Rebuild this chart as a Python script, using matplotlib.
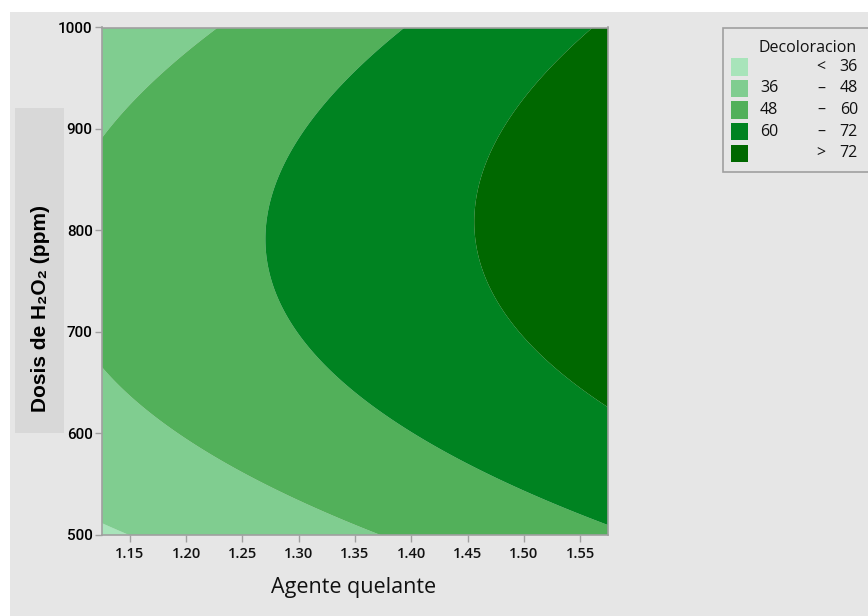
import numpy as np
import matplotlib
matplotlib.use("Agg")
import matplotlib.pyplot as plt
from matplotlib.patches import Rectangle

# ── Data ───────────────────────────────────────────────────────────────────

# Points traced along each contour boundary (Agente quelante, Dosis H2O2)
BOUNDARY_LEVEL = [72, 72, 72, 72, 72,
                  60, 60, 60, 60, 60, 60, 60,
                  48, 48, 48, 48, 48, 48, 48,
                  36, 36]
BOUNDARY_AGENT = [1.561, 1.5745, 1.4556, 1.512, 1.482,
                  1.393, 1.2703, 1.297, 1.304, 1.373, 1.444, 1.5745,
                  1.229, 1.125, 1.174, 1.125, 1.168, 1.372, 1.299,
                  1.125, 1.150]
BOUNDARY_DOSE = [1000, 624.8, 805, 679, 731,
                 1000, 790, 889, 692, 620, 574, 510,
                 1000, 893, 948, 664, 621, 500, 534.5,
                 512, 500]

LEVELS = [36, 48, 60, 72]
LEVEL_COLORS = ["#a8e4ba", "#80cd90", "#52b05a", "#008321", "#006800"]
LEGEND_LEFT = ["", "36", "48", "60", ""]
LEGEND_MID = ["<", "–", "–", "–", ">"]
LEGEND_RIGHT = ["36", "48", "60", "72", "72"]

X_RANGE = (1.125, 1.575)
Y_RANGE = (500, 1000)
X_TICKS = [1.15, 1.20, 1.25, 1.30, 1.35, 1.40, 1.45, 1.50, 1.55]
Y_TICKS = [500, 600, 700, 800, 900, 1000]

BG = "#e6e6e6"
SPINE = "#a0a0a0"
TEXT = "#111111"

W, H = 868, 616


def coded(a, d):
    u = (np.asarray(a, float) - 1.35) / 0.225
    v = (np.asarray(d, float) - 750.0) / 250.0
    return u, v


def design(u, v):
    return np.column_stack([np.ones_like(u), u, v, u * u, v * v, u * v])


# second-order response surface fitted through the traced boundaries
u, v = coded(BOUNDARY_AGENT, BOUNDARY_DOSE)
coef, *_ = np.linalg.lstsq(design(u, v), np.asarray(BOUNDARY_LEVEL, float), rcond=None)

gx = np.linspace(*X_RANGE, 500)
gy = np.linspace(*Y_RANGE, 500)
GX, GY = np.meshgrid(gx, gy)
gu, gv = coded(GX.ravel(), GY.ravel())
Z = (design(gu, gv) @ coef).reshape(GX.shape)

# ── Figure ─────────────────────────────────────────────────────────────────

fig = plt.figure(figsize=(W / 100, H / 100), dpi=100, facecolor="white")
fig.add_artist(Rectangle((10 / W, 0), 1 - 10 / W, (H - 12) / H,
                         transform=fig.transFigure, facecolor=BG,
                         edgecolor="none", zorder=0))

# shaded box behind the y label
fig.add_artist(Rectangle((15 / W, 1 - 433 / H), 49 / W, 325 / H,
                         transform=fig.transFigure, facecolor="#d8d8d8",
                         edgecolor="none", zorder=1))

ax = fig.add_axes([101.7 / W, 1 - 535 / H, (608.3 - 101.7) / W, (535 - 27.5) / H])
ax.set_facecolor(BG)

bounds = [min(Z.min(), LEVELS[0]) - 1] + LEVELS + [max(Z.max(), LEVELS[-1]) + 1]
ax.contourf(GX, GY, Z, levels=bounds, colors=LEVEL_COLORS, antialiased=True)

ax.set_xlim(*X_RANGE)
ax.set_ylim(*Y_RANGE)
ax.set_xticks(X_TICKS)
ax.set_xticklabels([f"{t:.2f}" for t in X_TICKS], family="Open Sans",
                   fontweight="semibold", fontsize=10.5, color=TEXT)
ax.set_yticks(Y_TICKS)
ax.set_yticklabels([str(t) for t in Y_TICKS], family="Roboto",
                   fontweight="medium", fontsize=11, color="black")
ax.tick_params(axis="both", direction="out", length=5, width=1, color=SPINE)
ax.tick_params(axis="x", pad=4)
ax.tick_params(axis="y", pad=1.5)
for s in ax.spines.values():
    s.set_color(SPINE)
    s.set_linewidth(1.2)

fig.text(354 / W, 1 - 588 / H, "Agente quelante", family="Open Sans",
         fontsize=15.5, color=TEXT, ha="center", va="center")
fig.text(41 / W, 1 - 309 / H, "Dosis de H\u2082O\u2082 (ppm)",
         family=["Liberation Sans", "DejaVu Sans"], fontweight="bold",
         fontsize=15, color="black", rotation=90, ha="center", va="center")

# ── Legend ─────────────────────────────────────────────────────────────────

fig.add_artist(Rectangle((723 / W, 1 - 172 / H), 160 / W, 144 / H,
                         transform=fig.transFigure, facecolor=BG,
                         edgecolor=SPINE, linewidth=1.2, zorder=2,
                         clip_on=False))
fig.text(759 / W, 1 - 48 / H, "Decoloracion", family="Open Sans",
         fontsize=11.5, color=TEXT, ha="left", va="center", zorder=3)
row_y = [67, 88.5, 110, 131.5, 153]
for yy, col, lt, mt, rt in zip(row_y, LEVEL_COLORS, LEGEND_LEFT, LEGEND_MID, LEGEND_RIGHT):
    fig.add_artist(Rectangle((731 / W, 1 - (yy + 8.5) / H), 17 / W, 17 / H,
                             transform=fig.transFigure, facecolor=col,
                             edgecolor="none", zorder=3))
    kw = dict(family="Open Sans", fontsize=11.5, color=TEXT, va="center", zorder=3)
    fig.text(760 / W, 1 - yy / H, lt, ha="left", **kw)
    fig.text(821 / W, 1 - yy / H, mt, ha="center", **kw)
    fig.text(858 / W, 1 - yy / H, rt, ha="right", **kw)

fig.savefig("out.png", dpi=100, facecolor="white")
